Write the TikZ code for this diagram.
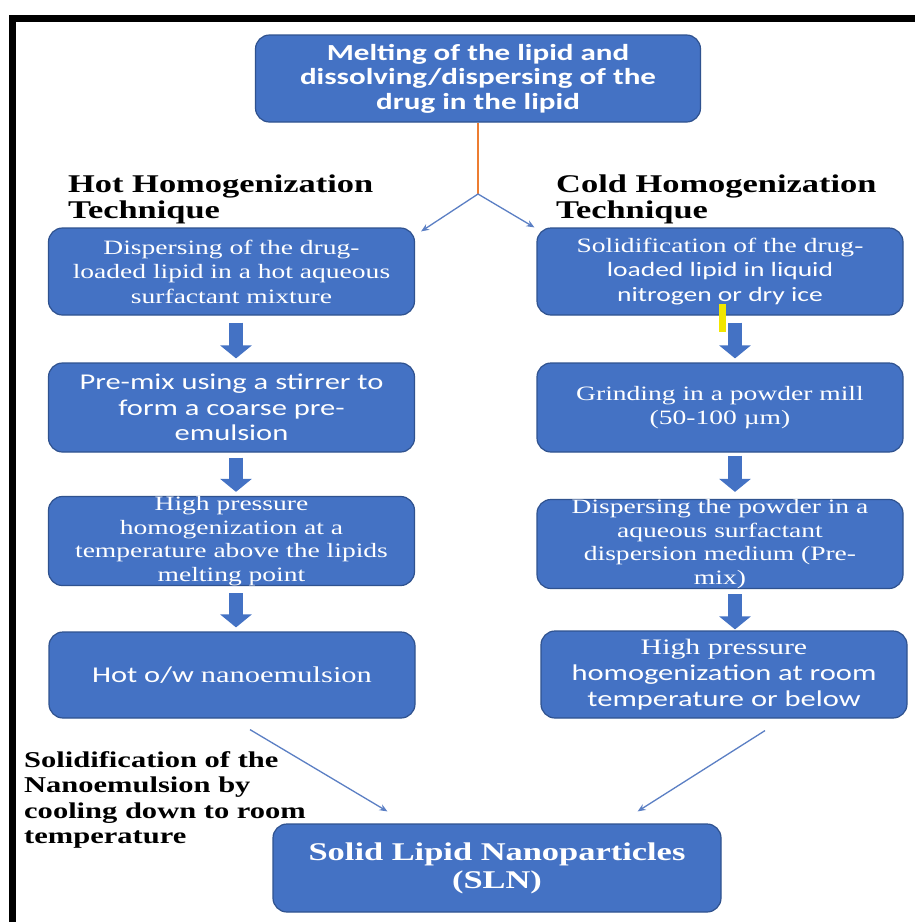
\documentclass[tikz,border=0pt]{standalone}
\usepackage{fontspec}
\usetikzlibrary{arrows.meta,calc}
\newfontfamily\tmsfont[FakeStretch=1.35]{Liberation Serif}
\newfontfamily\calfont[FakeStretch=1.35]{Carlito}
\definecolor{boxblue}{HTML}{4472C4}
\definecolor{boxedge}{HTML}{2F528F}
\definecolor{linkblue}{HTML}{5B7FC4}
\definecolor{orangeline}{HTML}{ED7D31}
\definecolor{marky}{HTML}{F2E600}
\begin{document}
\begin{tikzpicture}[x=1pt,y=-1pt,
  box/.style={draw=boxedge, line width=1.2pt, fill=boxblue, rounded corners=14pt,
    text=white, align=center, inner sep=0pt, minimum width=366pt, minimum height=87pt},
  tmsbox/.style={box, font=\tmsfont\fontsize{20.4}{24.5}\selectfont},
  calbox/.style={box, font=\calfont\fontsize{22.6}{25.5}\selectfont},
  barrow/.style={draw=boxblue, line width=14pt, -{Triangle[width=31pt,length=13pt]}},
  link/.style={draw=linkblue, line width=1.3pt, -{Stealth[length=8pt,width=6.5pt]}},
  heading/.style={anchor=north west, inner sep=0pt, align=left, text=black,
    font=\tmsfont\bfseries\fontsize{25.5}{25.5}\selectfont}]
\useasboundingbox (0,0) rectangle (914,922);
\fill[white] (0,0) rectangle (914,922);
% frame
\draw[line width=7pt] (930,18.5) -- (12.5,18.5) -- (12.5,940);

% top box
\node[box, minimum width=445pt, font=\calfont\bfseries\fontsize{23}{24.5}\selectfont] (top) at (478,78.5)
  {Melting of the lipid and\\dissolving/dispersing of the\\drug in the lipid};

% headings
\node[heading] (hot) at (68,175) {Hot Homogenization\\Technique};
\node[heading] (cold) at (556,175) {Cold Homogenization\\Technique};

% left column
\node[tmsbox] (L1) at (231.5,271.5)
  {Dispersing of the drug-\\loaded lipid in a hot aqueous\\surfactant mixture};
\node[calbox, minimum height=89pt] (L2) at (231.5,407.5)
  {Pre-mix using a stirrer to\\form a coarse pre-\\emulsion};
\node[tmsbox, minimum height=88pt, font=\tmsfont\fontsize{20.4}{23.5}\selectfont] (L3) at (231.5,541)
  {High pressure\\homogenization at a\\temperature above the lipids\\melting point};
\node[calbox, minimum height=86pt] (L4) at (232,675)
  {Hot o/w {\tmsfont nanoemulsion}};

% right column
\node[tmsbox] (R1) at (720,271.5)
  {Solidification of the drug-\\{\calfont loaded lipid in liquid}\\{\calfont nitrogen or dry ice}};
\node[tmsbox, minimum height=89pt, font=\tmsfont\fontsize{20.4}{24}\selectfont] (R2) at (720,407.5)
  {Grinding in a powder mill\\(50-100 µm)};
\node[tmsbox, minimum height=88pt, font=\tmsfont\fontsize{20.4}{23.5}\selectfont] (R3) at (720,544)
  {Dispersing the powder in a\\aqueous surfactant\\dispersion medium (Pre-\\mix)};
\node[calbox, font=\calfont\fontsize{22.6}{26}\selectfont] (R4) at (724,674.5)
  {{\tmsfont\fontsize{22.1}{26}\selectfont High pressure}\\homogenization at room\\temperature or below};

% final box
\node[box, minimum width=448pt, minimum height=88pt, font=\tmsfont\bfseries\fontsize{25.5}{28}\selectfont] (SLN) at (497,868)
  {Solid Lipid Nanoparticles\\(SLN)};

% note
\node[anchor=north west, inner sep=0pt, align=left, text=black,
  font=\tmsfont\bfseries\fontsize{22.6}{25.5}\selectfont] (note) at (24,751)
  {Solidification of the\\Nanoemulsion by\\cooling down to room\\temperature};

% split connectors
\coordinate (split) at (478,194);
\draw[orangeline, line width=1.3pt] (top.south) -- (split);
\draw[link] (split) -- ($(L1.north east)+(6,4)$);
\draw[link] (split) -- ($(R1.north west)+(-2,0)$);

% block arrows
\draw[barrow, shorten <=7pt, shorten >=4pt] ($(L1.south)+(4.5,0)$) -- ($(L2.north)+(4.5,0)$);
\draw[barrow, shorten <=5pt, shorten >=4pt] ($(L2.south)+(4.5,0)$) -- ($(L3.north)+(4.5,0)$);
\draw[barrow, shorten <=7pt, shorten >=4pt] ($(L3.south)+(4.5,0)$) -- ($(L4.north)+(4,0)$);
\draw[barrow, shorten <=7pt, shorten >=4pt] ($(R1.south)+(15,0)$) -- ($(R2.north)+(15,0)$);
\draw[barrow, shorten <=3pt, shorten >=7pt] ($(R2.south)+(15,0)$) -- ($(R3.north)+(15,0)$);
\draw[barrow, shorten <=5pt, shorten >=1pt] ($(R3.south)+(15,0)$) -- ($(R4.north)+(11,0)$);

% yellow mark
\fill[marky] (719,304) rectangle (726,332);

% converging connectors
\draw[link] ($(L4.south)+(18,11)$) -- ($(SLN.north west)+(115,-12)$);
\draw[link] ($(R4.south)+(41,12)$) -- ($(SLN.north east)+(-84,-12)$);
\end{tikzpicture}
\end{document}
